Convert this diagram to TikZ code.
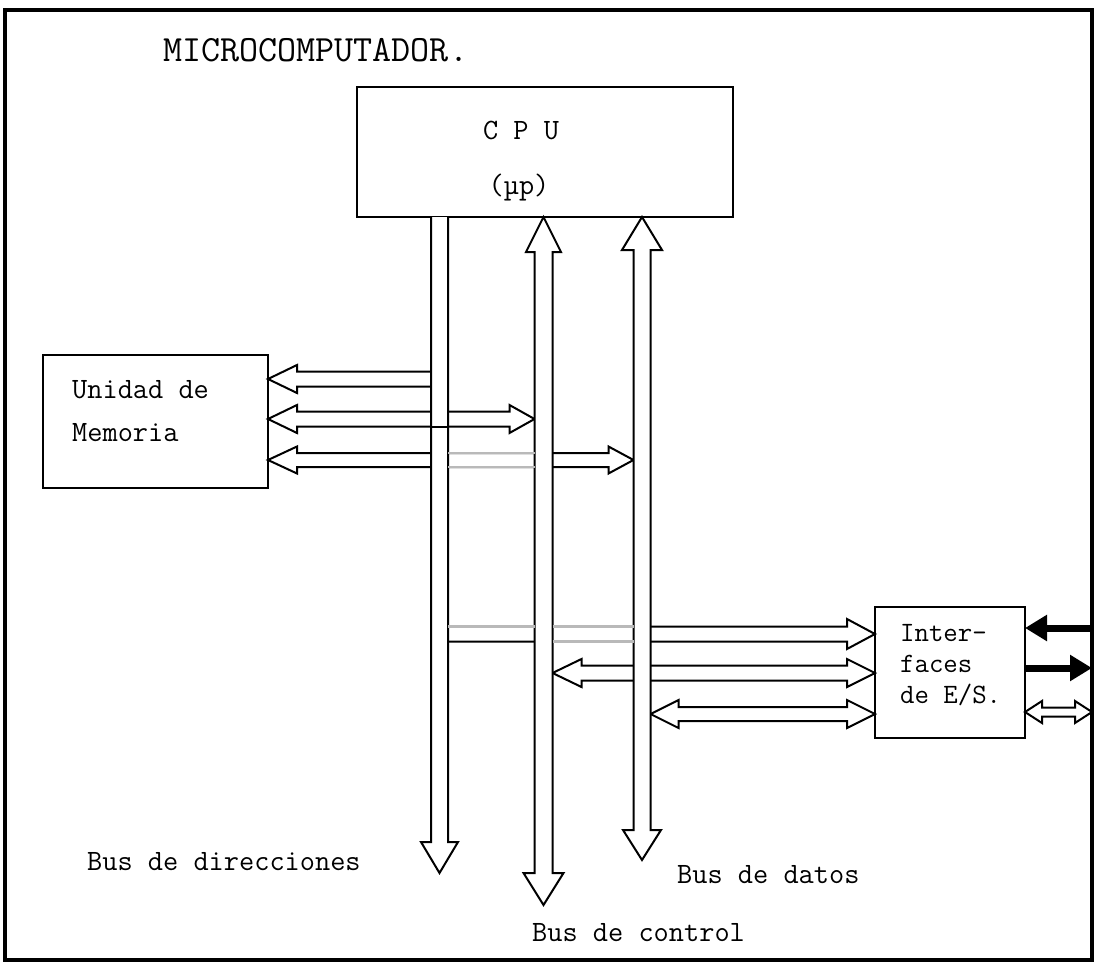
\documentclass[tikz,border=0pt]{standalone}
\usepackage{tikz}
\usetikzlibrary{arrows.meta,calc}

% hollow bus arrow, two heads: #1 first tip, #2 second tip, #3 half shaft,
% #4/#5 length/half width of the first head, #6/#7 of the second head
\newcommand{\vbusarrow}[7]{%
  \draw[bus] (#1) -- ++(#5,#4) -- ++({#3-#5},0) -- ($(#2)+(#3,{-(#6)})$) -- ++({#7-#3},0)
    -- (#2) -- ++({-(#7)},{-(#6)}) -- ++({#7-#3},0) -- ($(#1)+({-(#3)},#4)$) -- ++({#3-#5},0) -- cycle;}
\newcommand{\hbusarrow}[7]{%
  \draw[bus] (#1) -- ++(#4,#5) -- ++(0,{#3-#5}) -- ($(#2)+({-(#6)},#3)$) -- ++(0,{#7-#3})
    -- (#2) -- ++({-(#6)},{-(#7)}) -- ++(0,{#7-#3}) -- ($(#1)+(#4,{-(#3)})$) -- ++(0,{#3-#5}) -- cycle;}
% one head only: #1 tail (hidden in a bus), #2 tip, #3 half shaft, #4 signed head length, #5 half head
\newcommand{\hbusline}[5]{%
  \draw[bus] ($(#1)+(0,{-(#3)})$) -- ($(#2)+({-(#4)},{-(#3)})$) -- ++(0,{#3-#5}) -- (#2)
    -- ++({-(#4)},#5) -- ++(0,{#3-#5}) -- ($(#1)+(0,#3)$) -- cycle;}

\begin{document}
\begin{tikzpicture}[x=1pt, y=-1pt,
  box/.style={draw, line width=2.2pt, inner sep=0pt, outer sep=0pt},
  txt/.style={font=\ttfamily\fontsize{29.5}{43}\selectfont, inner sep=0pt, align=left},
  bus/.style={draw, line width=2pt, fill=white, line join=miter},
  ghost/.style={draw=gray!55, line width=2.6pt},
  solidarr/.style={line width=7pt, -{Triangle[length=22pt, width=25pt]}}]
  \useasboundingbox (0,0) rectangle (1096,969);
  \node[box, line width=3.5pt, minimum width=1087pt, minimum height=950pt] (frame) at (548.5,485) {};
  \node[txt, anchor=west, font=\ttfamily\fontsize{37}{40}\selectfont] (title) at (163,50) {MICROCOMPUTADOR.};
  % units
  \node[box, minimum width=376pt, minimum height=130pt] (cpu) at (545,152) {};
  \node[txt] (cpuname) at (521,130) {C P U};
  \node[txt] (cpusub) at (519,188) {(µp)};
  \node[box, minimum width=225pt, minimum height=133pt] (mem) at (155.5,421.5) {};
  \node[txt, anchor=west] (memname) at (72,411.5) {Unidad de\\Memoria};
  \node[box, minimum width=150pt, minimum height=131pt] (io) at (950,672.5) {};
  \node[txt, anchor=west, font=\ttfamily\fontsize{28}{31}\selectfont] (ioname) at (900,665) {Inter-\\faces\\de E/S.};
  % bus positions
  \coordinate (adr) at (cpu.south -| 439.5,0);
  \coordinate (ctl) at (cpu.south -| 543.5,0);
  \coordinate (dat) at (cpu.south -| 642,0);
  \coordinate (m1) at (mem.east |- 0,379);
  \coordinate (m2) at (mem.east |- 0,419);
  \coordinate (m3) at (mem.east |- 0,460);
  \coordinate (i1) at (io.west |- 0,634);
  \coordinate (i2) at (io.west |- 0,673);
  \coordinate (i3) at (io.west |- 0,714);
  % branches to memory and interfaces
  \hbusline{adr |- m1}{m1}{7.5}{-29}{14}
  \hbusarrow{m2}{$(ctl |- m2)+(-9,0)$}{7.5}{29}{14}{25}{14}
  \hbusarrow{m3}{$(dat |- m3)+(-8.5,0)$}{7}{29}{13.5}{25}{13.5}
  \hbusline{adr |- i1}{i1}{7.5}{28}{15}
  \hbusarrow{$(ctl |- i2)+(9,0)$}{i2}{7.5}{29}{14}{28}{14}
  \hbusarrow{$(dat |- i3)+(8.5,0)$}{i3}{7}{28}{14}{28}{14}
  % the three buses
  \draw[bus] ($(adr)+(-8.5,0)$) -- ++(0,625) -- ++(-10,0) -- ++(18.5,31) -- ++(18.5,-31) -- ++(-10,0) -- ($(adr)+(8.5,0)$);
  \vbusarrow{ctl}{543.5,905}{9}{35}{17.5}{32}{20}
  \vbusarrow{dat}{642,860}{8.5}{33}{20}{30}{19}
  \draw[line width=2pt] ($(adr |- m2)+(-8.5,7.5)$) -- ++(17,0);
  \foreach \s in {-7,7}
    \draw[ghost] ($(adr |- m3)+(8.5,\s)$) -- ($(ctl |- m3)+(-9,\s)$);
  \draw[ghost] ($(adr |- i1)+(8.5,-7.5)$) -- ($(ctl |- i1)+(-9,-7.5)$);
  \foreach \s in {-7.5,7.5}
    \draw[ghost] ($(ctl |- i1)+(9,\s)$) -- ($(dat |- i1)+(-8.5,\s)$);
  % outside world
  \draw[solidarr] (frame.east |- 0,628) -- (io.east |- 0,628);
  \draw[solidarr] (io.east |- 0,668) -- (frame.east |- 0,668);
  \hbusarrow{io.east |- 0,712}{frame.east |- 0,712}{4.5}{17}{11}{17}{11}
  % labels
  \node[txt, anchor=west] (adrlab) at (87,862) {Bus de direcciones};
  \node[txt, anchor=west] (datlab) at (677,875) {Bus de datos};
  \node[txt, anchor=west] (ctllab) at (532,933) {Bus de control};
\end{tikzpicture}
\end{document}
